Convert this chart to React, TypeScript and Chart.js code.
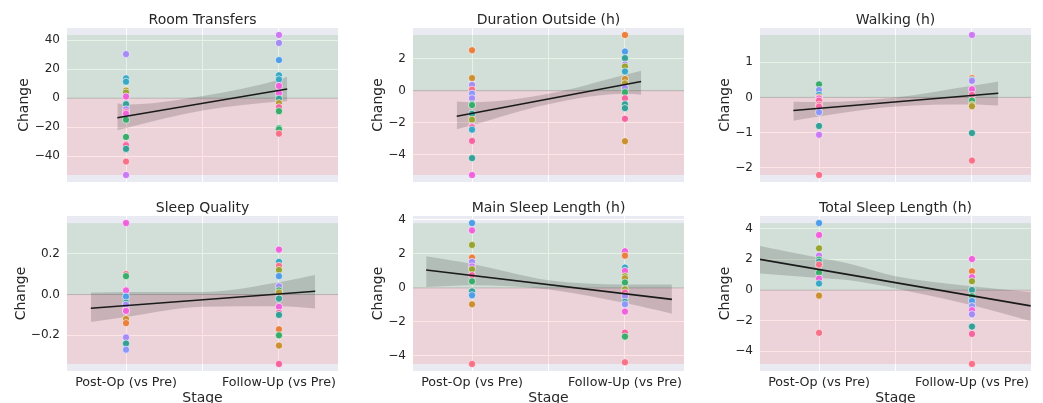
import React, { useEffect, useRef } from 'react';
import { Chart, registerables } from 'chart.js';

Chart.register(...registerables);

const FONT = '"DejaVu Sans", "Liberation Sans", sans-serif';
const TEXT = '#262626';

// ---- shared axis data ----
const xCategories = ['Post-Op (vs Pre)', 'Follow-Up (vs Pre)'];
const xGridValues = [0, 0.5, 1];
const xLimits = [-0.386, 1.386];
const xAxisLabel = 'Stage';
const yAxisLabel = 'Change';

const palette: Record<string, string> = {
  R: '#f77189', O: '#ea7f3e', B: '#cc8f32', Y: '#b49a32', L: '#97a431', G: '#3aac6a',
  T: '#35a097', C: '#38a8c5', U: '#4f9de8', W: '#8e97f7', V: '#a48cf4', P: '#cc7af4',
  M: '#f062dc', K: '#f5649e',
};

// ---- Room Transfers ----
const roomPostValues = [30.4, 13.7, 11.4, 5.3, 3.9, 1.2, -4.1, -7.7, -9.6, -10.7, -14.8, -26.7, -31.7, -32.4, -34.9, -43.6, -52.9];
const roomPostColors = ['V', 'C', 'C', 'Y', 'L', 'M', 'T', 'V', 'K', 'M', 'G', 'G', 'K', 'K', 'T', 'R', 'P'];
const roomFollowValues = [43.6, 38.1, 26.3, 15.8, 13.0, 8.5, 3.4, -0.4, -3.4, -6.2, -8.9, -20.5, -21.4, -24.4];
const roomFollowColors = ['P', 'V', 'U', 'C', 'C', 'M', 'M', 'T', 'Y', 'K', 'G', 'G', 'G', 'R'];
const roomYTicks = [-40, -20, 0, 20, 40];
const roomYTickLabels = ['\u221240', '\u221220', '0', '20', '40'];
const roomFitX = [-0.057, 1.054];
const roomFitY = [-13.4, 6.4];
const roomCiX = [-0.057, 0, 0.5, 1, 1.054];
const roomCiUpper = [-3.4, -4.3, 1.6, 12.8, 14.9];
const roomCiLower = [-22.1, -20.5, -8.5, -2.3, -2.0];

// ---- Duration Outside (h) ----
const durPostValues = [2.51, 0.78, 0.35, 0.06, -0.19, -0.48, -0.85, -0.9, -1.44, -1.81, -2.22, -2.28, -2.43, -3.13, -4.2, -5.25];
const durPostColors = ['O', 'B', 'V', 'R', 'W', 'V', 'T', 'G', 'T', 'L', 'M', 'K', 'C', 'K', 'T', 'M'];
const durFollowValues = [3.46, 2.43, 2.02, 1.62, 1.5, 1.19, 0.72, 0.45, 0.17, -0.1, -0.48, -0.85, -1.09, -1.75, -3.15];
const durFollowColors = ['O', 'U', 'T', 'V', 'L', 'C', 'B', 'Y', 'V', 'G', 'K', 'T', 'T', 'K', 'B'];
const durYTicks = [-4, -2, 0, 2];
const durYTickLabels = ['\u22124', '\u22122', '0', '2'];
const durFitX = [-0.1, 1.106];
const durFitY = [-1.59, 0.57];
const durCiX = [-0.1, 0, 0.5, 1, 1.106];
const durCiUpper = [-0.68, -0.72, -0.2, 0.98, 1.23];
const durCiLower = [-2.41, -2.15, -0.85, -0.2, -0.25];

// ---- Walking (h) ----
const walkPostValues = [0.37, 0.21, 0.07, 0.0, -0.03, -0.09, -0.21, -0.26, -0.42, -0.81, -1.06, -2.2];
const walkPostColors = ['G', 'W', 'C', 'O', 'M', 'K', 'R', 'K', 'W', 'T', 'P', 'R'];
const walkFollowValues = [1.77, 0.55, 0.5, 0.47, 0.23, 0.07, -0.09, -0.21, -0.25, -1.01, -1.79];
const walkFollowColors = ['P', 'O', 'C', 'V', 'M', 'K', 'G', 'L', 'Y', 'T', 'R'];
const walkYTicks = [-2, -1, 0, 1];
const walkYTickLabels = ['\u22122', '\u22121', '0', '1'];
const walkFitX = [-0.168, 1.172];
const walkFitY = [-0.37, 0.12];
const walkCiX = [-0.168, 0, 0.5, 1, 1.172];
const walkCiUpper = [-0.12, -0.13, 0.0, 0.33, 0.45];
const walkCiLower = [-0.66, -0.54, -0.26, -0.2, -0.23];

// ---- Sleep Quality ----
const sqPostValues = [0.35, 0.10, 0.09, 0.02, -0.01, -0.04, -0.05, -0.08, -0.08, -0.12, -0.14, -0.21, -0.24, -0.27];
const sqPostColors = ['M', 'R', 'G', 'M', 'U', 'T', 'V', 'K', 'M', 'B', 'O', 'V', 'T', 'W'];
const sqFollowValues = [0.22, 0.16, 0.14, 0.12, 0.09, 0.04, 0.02, 0.01, -0.02, -0.06, -0.09, -0.1, -0.17, -0.2, -0.25, -0.34];
const sqFollowColors = ['M', 'C', 'R', 'L', 'U', 'V', 'G', 'Y', 'T', 'M', 'K', 'T', 'O', 'G', 'B', 'K'];
const sqYTicks = [-0.2, 0, 0.2];
const sqYTickLabels = ['\u22120.2', '0.0', '0.2'];
const sqFitX = [-0.23, 1.237];
const sqFitY = [-0.067, 0.016];
const sqCiX = [-0.23, 0, 0.5, 1, 1.237];
const sqCiUpper = [0.01, 0.012, 0.012, 0.06, 0.095];
const sqCiLower = [-0.134, -0.11, -0.06, -0.058, -0.069];

// ---- Main Sleep Length (h) ----
const mainPostValues = [3.81, 3.38, 2.52, 1.78, 1.52, 1.26, 1.09, 0.74, 0.38, -0.21, -0.44, -0.97, -4.48];
const mainPostColors = ['U', 'M', 'L', 'O', 'V', 'P', 'L', 'K', 'G', 'T', 'U', 'B', 'R'];
const mainFollowValues = [2.15, 1.89, 1.19, 0.99, 0.68, 0.56, 0.31, -0.09, -0.28, -0.5, -0.83, -0.97, -1.4, -2.64, -2.87, -4.38];
const mainFollowColors = ['M', 'O', 'C', 'M', 'L', 'Y', 'G', 'L', 'K', 'V', 'T', 'W', 'M', 'K', 'G', 'R'];
const mainYTicks = [-4, -2, 0, 2, 4];
const mainYTickLabels = ['\u22124', '\u22122', '0', '2', '4'];
const mainFitX = [-0.3, 1.307];
const mainFitY = [1.05, -0.68];
const mainCiX = [-0.3, 0, 0.5, 1, 1.307];
const mainCiUpper = [1.85, 1.4, 0.45, 0.2, 0.19];
const mainCiLower = [0.05, 0.15, -0.1, -0.9, -1.52];

// ---- Total Sleep Length (h) ----
const totalPostValues = [4.37, 3.59, 2.72, 2.24, 1.98, 1.85, 1.66, 1.13, 0.74, 0.42, -0.37, -2.8];
const totalPostColors = ['U', 'M', 'L', 'P', 'G', 'T', 'R', 'G', 'M', 'C', 'B', 'R'];
const totalFollowValues = [2.02, 1.22, 0.83, 0.57, 0.0, -0.41, -0.72, -1.06, -1.32, -1.59, -2.39, -2.87, -4.83];
const totalFollowColors = ['M', 'O', 'M', 'L', 'T', 'G', 'U', 'W', 'M', 'V', 'T', 'K', 'R'];
const totalYTicks = [-4, -2, 0, 2, 4];
const totalYTickLabels = ['\u22124', '\u22122', '0', '2', '4'];
const totalFitX = [-0.386, 1.384];
const totalFitY = [2.0, -1.04];
const totalCiX = [-0.386, 0, 0.2, 0.5, 1, 1.384];
const totalCiUpper = [2.87, 2.1, 1.72, 0.9, 0.25, -0.13];
const totalCiLower = [1.07, 0.78, 0.63, 0.1, -1.0, -2.04];

type Panel = {
  title: string;
  postValues: number[]; postColors: string[];
  followValues: number[]; followColors: string[];
  yTicks: number[]; yTickLabels: string[];
  fitX: number[]; fitY: number[];
  ciX: number[]; ciUpper: number[]; ciLower: number[];
};

const panels: Panel[] = [
  { title: 'Room Transfers', postValues: roomPostValues, postColors: roomPostColors, followValues: roomFollowValues, followColors: roomFollowColors, yTicks: roomYTicks, yTickLabels: roomYTickLabels, fitX: roomFitX, fitY: roomFitY, ciX: roomCiX, ciUpper: roomCiUpper, ciLower: roomCiLower },
  { title: 'Duration Outside (h)', postValues: durPostValues, postColors: durPostColors, followValues: durFollowValues, followColors: durFollowColors, yTicks: durYTicks, yTickLabels: durYTickLabels, fitX: durFitX, fitY: durFitY, ciX: durCiX, ciUpper: durCiUpper, ciLower: durCiLower },
  { title: 'Walking (h)', postValues: walkPostValues, postColors: walkPostColors, followValues: walkFollowValues, followColors: walkFollowColors, yTicks: walkYTicks, yTickLabels: walkYTickLabels, fitX: walkFitX, fitY: walkFitY, ciX: walkCiX, ciUpper: walkCiUpper, ciLower: walkCiLower },
  { title: 'Sleep Quality', postValues: sqPostValues, postColors: sqPostColors, followValues: sqFollowValues, followColors: sqFollowColors, yTicks: sqYTicks, yTickLabels: sqYTickLabels, fitX: sqFitX, fitY: sqFitY, ciX: sqCiX, ciUpper: sqCiUpper, ciLower: sqCiLower },
  { title: 'Main Sleep Length (h)', postValues: mainPostValues, postColors: mainPostColors, followValues: mainFollowValues, followColors: mainFollowColors, yTicks: mainYTicks, yTickLabels: mainYTickLabels, fitX: mainFitX, fitY: mainFitY, ciX: mainCiX, ciUpper: mainCiUpper, ciLower: mainCiLower },
  { title: 'Total Sleep Length (h)', postValues: totalPostValues, postColors: totalPostColors, followValues: totalFollowValues, followColors: totalFollowColors, yTicks: totalYTicks, yTickLabels: totalYTickLabels, fitX: totalFitX, fitY: totalFitY, ciX: totalCiX, ciUpper: totalCiUpper, ciLower: totalCiLower },
];

// ---- layout (pixels) ----
const colLeft = [0, 345, 690];
const colWidth = [345, 345, 353];
const plotLeft = [67, 413, 760];
const plotRight = [338, 684, 1031];
const rowTop = [0, 200];
const rowHeight = [200, 203];
const plotTop = [28, 216];
const plotBottom = [182, 371];

function PanelChart({ panel, col, row }: { panel: Panel; col: number; row: number }) {
  const ref = useRef<HTMLCanvasElement>(null);

  useEffect(() => {
    const canvas = ref.current!;
    const cl = colLeft[col], cw = colWidth[col], rt = rowTop[row], rh = rowHeight[row];
    const pl = plotLeft[col], pr = plotRight[col], pt = plotTop[row], pb = plotBottom[row];
    const yAxisW = pl - cl;
    const xAxisH = rt + rh - pb;
    const allValues = [...panel.postValues, ...panel.followValues];
    const vMax = Math.max(...allValues);
    const vMin = Math.min(...allValues);
    const margin = (vMax - vMin) * 0.05;
    const showX = row === 1;

    const decor = {
      id: 'decor',
      beforeDraw(chart: any) {
        const { ctx, chartArea: a } = chart;
        ctx.save();
        ctx.fillStyle = '#eaeaf2';
        ctx.fillRect(a.left, a.top, a.right - a.left, a.bottom - a.top);
        ctx.restore();
      },
      beforeDatasetsDraw(chart: any) {
        const { ctx, chartArea: a } = chart;
        const ys = chart.scales.y;
        const y0 = ys.getPixelForValue(0);
        const yt = ys.getPixelForValue(vMax);
        const yb = ys.getPixelForValue(vMin);
        ctx.save();
        ctx.fillStyle = 'rgba(0,128,0,0.1)';
        ctx.fillRect(a.left, yt, a.right - a.left, y0 - yt);
        ctx.fillStyle = 'rgba(255,0,0,0.1)';
        ctx.fillRect(a.left, y0, a.right - a.left, yb - y0);
        ctx.strokeStyle = 'rgba(110,110,110,0.45)';
        ctx.lineWidth = 1;
        ctx.beginPath();
        ctx.moveTo(a.left, y0);
        ctx.lineTo(a.right, y0);
        ctx.stroke();
        ctx.restore();
      },
      afterDraw(chart: any) {
        const { ctx, chartArea: a } = chart;
        const cx = (a.left + a.right) / 2;
        ctx.save();
        ctx.fillStyle = TEXT;
        ctx.font = `14px ${FONT}`;
        ctx.textAlign = 'center';
        ctx.textBaseline = 'alphabetic';
        ctx.fillText(panel.title, cx, a.top - 4);
        // y label
        ctx.font = `12px ${FONT}`;
        let maxW = 0;
        panel.yTickLabels.forEach((t) => { maxW = Math.max(maxW, ctx.measureText(t).width); });
        const tickLeft = a.left - 7 - maxW;
        ctx.font = `14px ${FONT}`;
        ctx.save();
        ctx.translate(tickLeft - 3, (a.top + a.bottom) / 2);
        ctx.rotate(-Math.PI / 2);
        ctx.textAlign = 'center';
        ctx.textBaseline = 'bottom';
        ctx.fillText(yAxisLabel, 0, 0);
        ctx.restore();
        if (showX) {
          ctx.textAlign = 'center';
          ctx.textBaseline = 'alphabetic';
          ctx.fillText(xAxisLabel, cx, 202);
        }
        ctx.restore();
      },
    };

    const toColors = (keys: string[]) => keys.map((k) => palette[k]);
    const chart = new Chart(canvas, {
      type: 'scatter',
      data: {
        datasets: [
          {
            type: 'line',
            data: panel.fitX.map((x, i) => ({ x, y: panel.fitY[i] })),
            borderColor: '#1a1a1a',
            borderWidth: 1.6,
            pointRadius: 0,
            fill: false,
            order: 0,
          },
          {
            type: 'scatter',
            data: panel.postValues.map((y) => ({ x: 0, y })),
            backgroundColor: toColors(panel.postColors),
            borderColor: '#ffffff',
            borderWidth: 0.6,
            pointRadius: 3.6,
            order: 1,
          },
          {
            type: 'scatter',
            data: panel.followValues.map((y) => ({ x: 1, y })),
            backgroundColor: toColors(panel.followColors),
            borderColor: '#ffffff',
            borderWidth: 0.6,
            pointRadius: 3.6,
            order: 1,
          },
          {
            type: 'line',
            data: panel.ciX.map((x, i) => ({ x, y: panel.ciLower[i] })),
            borderColor: 'rgba(0,0,0,0)',
            borderWidth: 1,
            pointRadius: 0,
            fill: false,
            cubicInterpolationMode: 'monotone',
            order: 3,
          },
          {
            type: 'line',
            data: panel.ciX.map((x, i) => ({ x, y: panel.ciUpper[i] })),
            borderColor: 'rgba(0,0,0,0)',
            borderWidth: 1,
            pointRadius: 0,
            fill: '-1',
            backgroundColor: 'rgba(0,0,0,0.15)',
            cubicInterpolationMode: 'monotone',
            order: 2,
          },
        ] as any,
      },
      options: {
        animation: false,
        responsive: false,
        maintainAspectRatio: false,
        events: [],
        layout: { padding: { left: 0, top: pt - rt, right: cl + cw - pr, bottom: 0 } },
        plugins: {
          legend: { display: false },
          tooltip: { enabled: false },
          title: { display: false },
        },
        scales: {
          x: {
            type: 'linear',
            min: xLimits[0],
            max: xLimits[1],
            afterBuildTicks: (s: any) => { s.ticks = xGridValues.map((v) => ({ value: v })); },
            afterFit: (s: any) => { s.height = xAxisH; s.paddingLeft = 0; s.paddingRight = 0; },
            grid: { color: '#ffffff', lineWidth: 1, drawTicks: false },
            border: { display: false },
            ticks: {
              display: showX,
              autoSkip: false,
              maxRotation: 0,
              minRotation: 0,
              padding: 4,
              color: TEXT,
              font: { family: FONT, size: 12.7 },
              callback: (v: any) => (v === 0 ? xCategories[0] : v === 1 ? xCategories[1] : ''),
            },
          },
          y: {
            type: 'linear',
            min: vMin - margin,
            max: vMax + margin,
            afterBuildTicks: (s: any) => { s.ticks = panel.yTicks.map((v) => ({ value: v })); },
            afterFit: (s: any) => { s.width = yAxisW; s.paddingTop = 0; s.paddingBottom = 0; },
            grid: { color: '#ffffff', lineWidth: 1, drawTicks: false },
            border: { display: false },
            ticks: {
              padding: 7,
              color: TEXT,
              font: { family: FONT, size: 12 },
              callback: (_v: any, i: number) => panel.yTickLabels[i],
            },
          },
        },
      } as any,
      plugins: [decor],
    });
    return () => chart.destroy();
  }, [panel, col, row]);

  return (
    <canvas
      ref={ref}
      width={colWidth[col]}
      height={rowHeight[row]}
      style={{ position: 'absolute', left: colLeft[col], top: rowTop[row], width: colWidth[col], height: rowHeight[row] }}
    />
  );
}

export default function App() {
  return (
    <div style={{ position: 'fixed', left: 0, top: 0, width: 1043, height: 403, background: '#ffffff', overflow: 'hidden' }}>
      {panels.map((p, i) => (
        <PanelChart key={p.title} panel={p} col={i % 3} row={Math.floor(i / 3)} />
      ))}
    </div>
  );
}
